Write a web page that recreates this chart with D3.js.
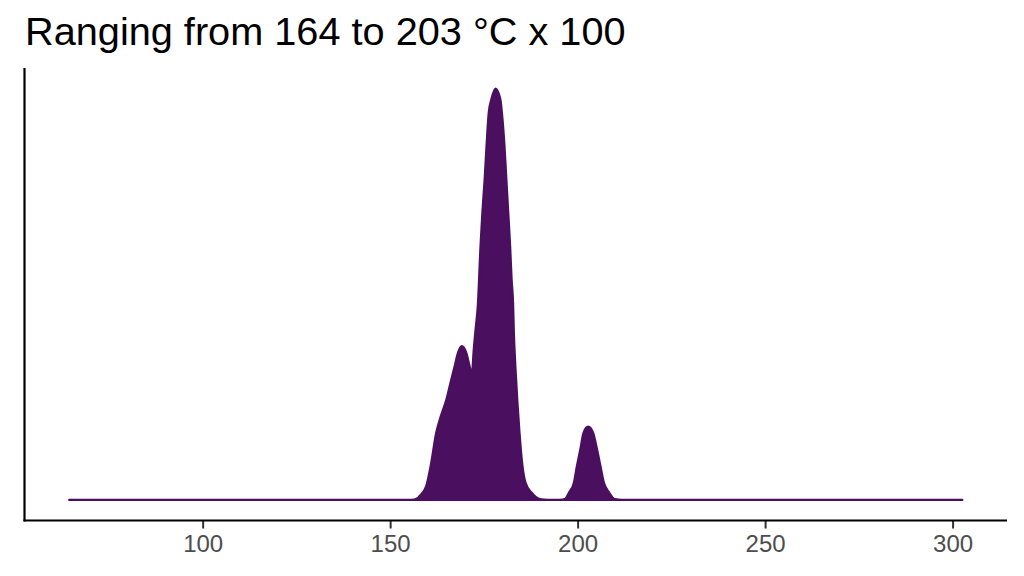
<!DOCTYPE html>
<html>
<head>
<meta charset="utf-8">
<script src="https://cdn.jsdelivr.net/npm/d3@7"></script>
<style>
  html, body { margin: 0; padding: 0; background: #fff; }
  svg { display: block; }
</style>
</head>
<body>
<svg id="chart" width="1024" height="576"></svg>
<script>
// Data (temperature, relative density)
const temps = [64.4, 155.7, 157.3, 157.8, 159.6, 160.8, 162.3, 163.5, 165.0, 166.1, 167.2, 168.1, 169.1,
  170.3, 171.2, 171.8, 172.3, 172.7, 173.4, 174.1, 174.6, 175.2, 175.7, 176.3, 177.0, 178.1,
  179.4, 179.8, 180.5, 181.0, 181.5, 182.0, 182.4, 182.8, 183.0, 183.4, 183.9, 184.5, 185.3,
  186.1, 187.7, 189.9, 192.0, 195.2, 196.6, 197.7, 199.0, 199.8, 200.7, 201.6, 202.8,
  204.1, 205.2, 206.1, 207.0, 208.4, 209.9, 211.8, 302.6];
const density = [0, 0, 0.004, 0.009, 0.033, 0.082, 0.164, 0.203, 0.244, 0.285, 0.325, 0.358, 0.374,
  0.358, 0.325, 0.307, 0.366, 0.407, 0.475, 0.617, 0.699, 0.779, 0.860, 0.942, 0.974, 1.0,
  0.974, 0.942, 0.860, 0.779, 0.699, 0.617, 0.536, 0.475, 0.407, 0.325, 0.244, 0.164, 0.082,
  0.042, 0.018, 0.002, 0, 0, 0.002, 0.018, 0.042, 0.082, 0.122, 0.164, 0.178,
  0.164, 0.122, 0.082, 0.042, 0.018, 0.002, 0, 0];
const xTicks = [100, 150, 200, 250, 300];
const titleText = "Ranging from 164 to 203 °C x 100";

const svg = d3.select("#chart");
const panel = { left: 24.5, right: 1007, top: 68, bottom: 520.5 };

const xMin = d3.min(temps), xMax = d3.max(temps);
const xPad = (xMax - xMin) * 0.05;
const x = d3.scaleLinear().domain([xMin - xPad, xMax + xPad]).range([panel.left, panel.right]);
const yMax = d3.max(density);
const y = d3.scaleLinear().domain([-0.05 * yMax, 1.05 * yMax]).range([panel.bottom, panel.top]);

const pts = temps.map((t, i) => ({ t, d: density[i] }));
const fillCol = "#4B0F5F";

svg.append("path")
  .datum(pts)
  .attr("fill", fillCol)
  .attr("stroke", fillCol)
  .attr("stroke-width", 2.2)
  .attr("stroke-linejoin", "round")
  .attr("d", d3.area().x(p => x(p.t)).y0(y(0)).y1(p => y(p.d)).curve(d3.curveMonotoneX));

// Axes
const xAxis = svg.append("g")
  .attr("transform", `translate(0,${panel.bottom})`)
  .call(d3.axisBottom(x).tickValues(xTicks).tickSize(8).tickPadding(6).tickFormat(d3.format("d")));
xAxis.select(".domain").remove();
xAxis.selectAll(".tick line").attr("stroke", "#333").attr("stroke-width", 2);
xAxis.selectAll(".tick text")
  .attr("fill", "#4D4D4D")
  .style("font-family", "'Liberation Sans', Arial, sans-serif")
  .style("font-size", "24px");

svg.append("line")
  .attr("x1", panel.left - 1).attr("x2", panel.right)
  .attr("y1", panel.bottom).attr("y2", panel.bottom)
  .attr("stroke", "#000").attr("stroke-width", 2.2);
svg.append("line")
  .attr("x1", panel.left).attr("x2", panel.left)
  .attr("y1", panel.top).attr("y2", panel.bottom + 1)
  .attr("stroke", "#000").attr("stroke-width", 2.2);

svg.append("text")
  .attr("x", 25).attr("y", 45)
  .attr("fill", "#000")
  .style("font-family", "'Liberation Sans', Arial, sans-serif")
  .style("font-size", "39.7px")
  .text(titleText);
</script>
</body>
</html>
